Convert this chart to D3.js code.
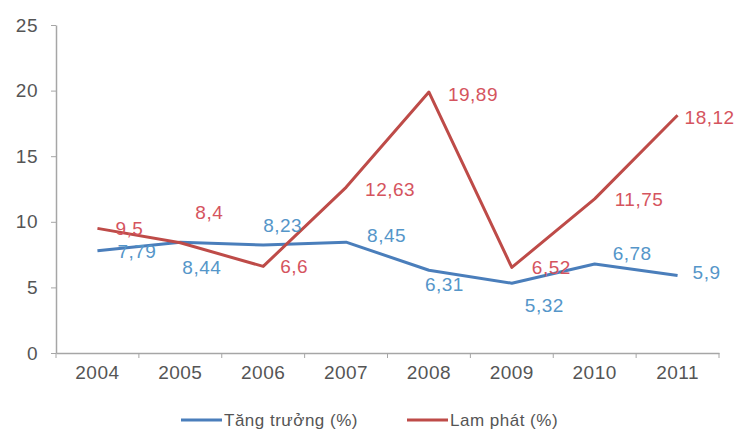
<!DOCTYPE html>
<html>
<head>
<meta charset="utf-8">
<script src="https://cdn.jsdelivr.net/npm/d3@7"></script>
<style>
  body { margin: 0; background: #fff; }
  text { font-family: "Liberation Sans", Arial, sans-serif; letter-spacing: 0.5px; }
</style>
</head>
<body>
<div id="canvas"></div>
<script>
// data
const years = ["2004", "2005", "2006", "2007", "2008", "2009", "2010", "2011"];
const growth = [7.79, 8.44, 8.23, 8.45, 6.31, 5.32, 6.78, 5.9];
const inflation = [9.5, 8.4, 6.6, 12.63, 19.89, 6.52, 11.75, 18.12];
const yTicks = [0, 5, 10, 15, 20, 25];
const seriesNames = ["Tăng trưởng (%)", "Lam phát (%)"];

// label offsets (dx to label start, dy to label middle)
const growthLabelOffsets = [[20, 1], [2, 25], [0, -20], [21, -7], [-4, 14], [13, 22], [18, -11], [15, -3]];
const inflationLabelOffsets = [[18, 0], [15, -30], [17, 0], [19, 2], [19, 2], [20, 0], [20, 1], [7, 2]];

// dimensions
const width = 738;
const height = 433;
const plot = {left: 56, right: 719, top: 25, bottom: 353};

const blueLine = "#4a7ebb";
const redLine = "#be4b48";
const blueText = "#5596c9";
const redText = "#d5545e";
const axisColor = "#a6a6a6";
const tickText = "#555";

var svg = d3.select("#canvas").append("svg")
    .attr("width", width)
    .attr("height", height);

// scales
var x = d3.scaleBand()
    .domain(years)
    .range([plot.left, plot.right])
    .padding(0);
var y = d3.scaleLinear()
    .domain([0, 25])
    .range([plot.bottom, plot.top]);

const cx = function(d, i) { return x(years[i]) + x.bandwidth() / 2; };

// Y axis
var yAxis = svg.append("g")
    .attr("transform", `translate(${plot.left}, 0)`)
    .call(d3.axisLeft(y).tickValues(yTicks).tickSize(5).tickPadding(13).tickSizeOuter(0));
yAxis.select(".domain").attr("stroke", axisColor).attr("stroke-width", 1.5);
yAxis.selectAll(".tick line").attr("stroke", axisColor);
yAxis.selectAll(".tick text")
    .attr("fill", tickText)
    .attr("font-size", 19)
    .attr("font-family", "Liberation Sans, Arial, sans-serif");

// X axis (ticks between categories)
var xAxis = svg.append("g")
    .attr("transform", `translate(0, ${plot.bottom})`)
    .call(d3.axisBottom(x).tickSize(0).tickPadding(13));
xAxis.select(".domain").attr("stroke", axisColor).attr("stroke-width", 1.5);
xAxis.selectAll(".tick text")
    .attr("fill", tickText)
    .attr("font-size", 19)
    .attr("font-family", "Liberation Sans, Arial, sans-serif");
xAxis.selectAll(".sep")
    .data(years.map(function(c) { return x(c); }).concat([x.range()[1]]))
    .enter()
    .append("line")
    .attr("class", "sep")
    .attr("x1", function(d) { return d; })
    .attr("x2", function(d) { return d; })
    .attr("y1", 0)
    .attr("y2", 5)
    .attr("stroke", axisColor);

// lines
var line = d3.line()
    .x(cx)
    .y(function(d) { return y(d); });

svg.append("path")
    .datum(growth)
    .attr("fill", "none")
    .attr("stroke", blueLine)
    .attr("stroke-width", 3)
    .attr("stroke-linejoin", "round")
    .attr("d", line);

svg.append("path")
    .datum(inflation)
    .attr("fill", "none")
    .attr("stroke", redLine)
    .attr("stroke-width", 3)
    .attr("stroke-linejoin", "round")
    .attr("d", line);

// data labels
function fmt(v) { return String(v).replace(".", ","); }

function addLabels(values, offsets, color) {
    svg.append("g").selectAll("text")
        .data(values)
        .enter()
        .append("text")
        .attr("x", function(d, i) { return cx(d, i) + offsets[i][0]; })
        .attr("y", function(d, i) { return y(d) + offsets[i][1]; })
        .attr("dominant-baseline", "central")
        .attr("fill", color)
        .attr("font-size", 19)
        .text(fmt);
}
addLabels(inflation, inflationLabelOffsets, redText);
addLabels(growth, growthLabelOffsets, blueText);

// legend
var legendItems = [
    {name: seriesNames[0], color: blueLine, x: 181},
    {name: seriesNames[1], color: redLine, x: 407}
];
var legend = svg.append("g").attr("transform", "translate(0, 420)");
legendItems.forEach(function(item) {
    legend.append("line")
        .attr("x1", item.x)
        .attr("x2", item.x + 41)
        .attr("y1", 0)
        .attr("y2", 0)
        .attr("stroke", item.color)
        .attr("stroke-width", 3);
    legend.append("text")
        .attr("x", item.x + 43)
        .attr("y", 0)
        .attr("dominant-baseline", "central")
        .attr("fill", tickText)
        .attr("font-size", 17)
        .text(item.name);
});
</script>
</body>
</html>
